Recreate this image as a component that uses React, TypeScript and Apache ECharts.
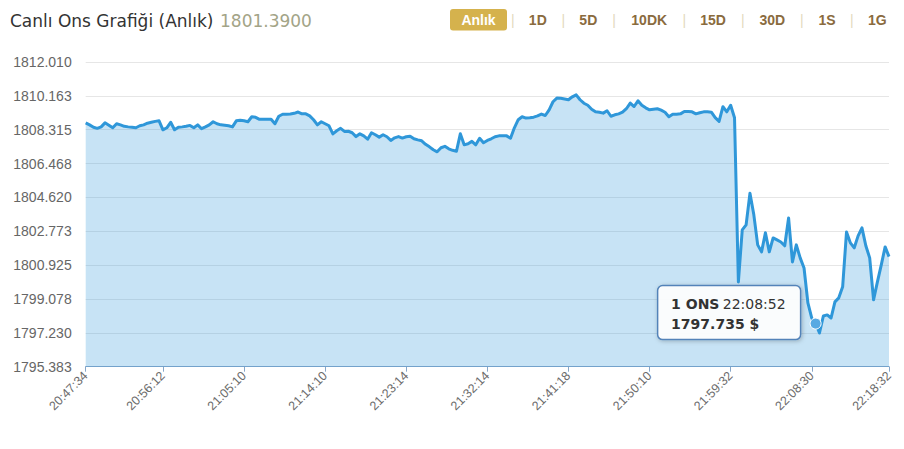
import React, { useEffect, useRef } from "react";
import * as echarts from "echarts";

// ---- data ----
const heading = "Canlı Ons Grafiği (Anlık)";
const currentPrice = "1801.3900";
const periods = ["Anlık", "1D", "5D", "10DK", "15D", "30D", "1S", "1G"];

const tickLabels = [
  "20:47:34", "20:56:12", "21:05:10", "21:14:10", "21:23:14", "21:32:14",
  "21:41:18", "21:50:10", "21:59:32", "22:08:30", "22:18:32",
];
// number of data points between consecutive labelled ticks
const tickSteps = [20, 21, 21, 21, 21, 21, 21, 21, 21, 20];

const prices = [
  1808.69, 1808.58, 1808.45, 1808.39, 1808.47, 1808.69, 1808.56, 1808.42, 1808.64, 1808.58,
  1808.50, 1808.47, 1808.45, 1808.42, 1808.53, 1808.58, 1808.67, 1808.72, 1808.77, 1808.80,
  1808.31, 1808.42, 1808.72, 1808.31, 1808.45, 1808.47, 1808.50, 1808.55, 1808.42, 1808.58,
  1808.37, 1808.47, 1808.58, 1808.75, 1808.64, 1808.58, 1808.56, 1808.53, 1808.47, 1808.80,
  1808.83, 1808.80, 1808.75, 1809.02, 1808.99, 1808.88, 1808.88, 1808.88, 1808.88, 1808.64,
  1809.05, 1809.16, 1809.16, 1809.17, 1809.21, 1809.28, 1809.18, 1809.18, 1809.07, 1808.86,
  1808.58, 1808.75, 1808.64, 1808.53, 1808.09, 1808.26, 1808.39, 1808.22, 1808.23, 1808.15,
  1807.94, 1808.09, 1807.98, 1807.80, 1808.15, 1808.04, 1807.91, 1808.04, 1807.93, 1807.73,
  1807.87, 1807.94, 1807.86, 1807.93, 1807.96, 1807.82, 1807.76, 1807.71, 1807.52, 1807.38,
  1807.22, 1807.11, 1807.33, 1807.41, 1807.27, 1807.19, 1807.14, 1808.09, 1807.49, 1807.55,
  1807.68, 1807.49, 1807.85, 1807.60, 1807.73, 1807.82, 1807.93, 1807.98, 1807.98, 1807.98,
  1807.85, 1808.42, 1808.86, 1809.02, 1808.95, 1808.97, 1809.00, 1809.07, 1809.17, 1809.09,
  1809.40, 1809.84, 1810.04, 1810.03, 1809.99, 1809.95, 1810.11, 1810.22, 1809.95, 1809.76,
  1809.65, 1809.43, 1809.29, 1809.27, 1809.22, 1809.35, 1809.05, 1809.13, 1809.18, 1809.27,
  1809.46, 1809.77, 1809.58, 1809.89, 1809.65, 1809.51, 1809.40, 1809.43, 1809.46, 1809.38,
  1809.27, 1809.02, 1809.16, 1809.16, 1809.18, 1809.31, 1809.31, 1809.29, 1809.18, 1809.24,
  1809.29, 1809.29, 1809.27, 1808.97, 1808.77, 1809.57, 1809.29, 1809.65, 1808.97, 1800.01,
  1802.85, 1803.12, 1804.85, 1803.67, 1802.03, 1801.65, 1802.69, 1801.65, 1802.41, 1802.30,
  1802.19, 1801.98, 1803.50, 1801.10, 1802.03, 1801.32, 1800.77, 1798.86, 1798.04, 1797.735,
  1797.22, 1798.15, 1798.21, 1798.04, 1798.92, 1799.14, 1799.74, 1802.74, 1802.14, 1801.87,
  1802.52, 1802.96, 1801.98, 1801.32, 1799.03, 1800.01, 1800.94, 1801.92, 1801.39,
];

const yMin = 1795.383;
const yMax = 1812.01;
const yStep = 1.847445;

const tipIndex = 189;
const tipTime = "22:08:52";
const tipUnit = "1 ONS";

export default function App() {
  const ref = useRef<HTMLDivElement>(null);

  useEffect(() => {
    const el = ref.current;
    if (!el) return;
    const chart = echarts.init(el, undefined, { renderer: "svg" });

    const tickIdx: number[] = [0];
    tickSteps.forEach((s) => tickIdx.push(tickIdx[tickIdx.length - 1] + s));
    const labelAt: Record<number, string> = {};
    tickIdx.forEach((k, i) => (labelAt[k] = tickLabels[i]));
    const categories = prices.map((_, i) => labelAt[i] ?? "");
    const isTick = (i: number) => labelAt[i] !== undefined;

    const btnCenters = [478.5, 537.8, 588.3, 649.2, 713, 772.3, 827, 877.3];
    const sepX = [512.7, 563.3, 614, 684.3, 742.7, 801.7, 851.7];

    const headerGraphics: any[] = [
      {
        type: "text",
        x: 10,
        y: 21,
        style: {
          text: heading,
          fill: "#333",
          font: "17px 'DejaVu Sans'",
          textVerticalAlign: "middle",
        },
      },
      {
        type: "text",
        x: 220,
        y: 21,
        style: {
          text: currentPrice,
          fill: "#a3a487",
          font: "17px 'DejaVu Sans'",
          textVerticalAlign: "middle",
        },
      },
      {
        type: "rect",
        shape: { x: 450, y: 9, width: 57, height: 21.5, r: 3 },
        style: { fill: "#d5b24d" },
      },
    ];
    periods.forEach((p, i) => {
      headerGraphics.push({
        type: "text",
        x: btnCenters[i],
        y: 20,
        style: {
          text: p,
          fill: i === 0 ? "#ffffff" : "#8a6b3e",
          font: "bold 14px 'Liberation Sans', Arial",
          textAlign: "center",
          textVerticalAlign: "middle",
        },
      });
    });
    sepX.forEach((x) => {
      headerGraphics.push({
        type: "text",
        x,
        y: 20,
        style: {
          text: "|",
          fill: "#e3d9bd",
          font: "14px 'Liberation Sans', Arial",
          textAlign: "center",
          textVerticalAlign: "middle",
        },
      });
    });

    chart.setOption({
      animation: false,
      backgroundColor: "#ffffff",
      grid: { left: 85.7, right: 15, top: 62, bottom: 82.3, containLabel: false, outerBoundsMode: "none" },
      xAxis: {
        type: "category",
        boundaryGap: false,
        data: categories,
        axisLine: { lineStyle: { color: "#86a6c8", width: 1 } },
        axisTick: { show: true, interval: (i: number) => isTick(i), length: 5, lineStyle: { color: "#86a6c8" } },
        axisLabel: {
          interval: (i: number) => isTick(i),
          rotate: 45,
          margin: 7,
          color: "#6b6b6b",
          fontSize: 12.5,
          fontFamily: "'Liberation Sans', Arial",
        },
        splitLine: { show: false },
      },
      yAxis: {
        type: "value",
        min: yMin,
        max: yMax,
        interval: yStep,
        axisLine: { show: false },
        axisTick: { show: false },
        axisLabel: {
          margin: 14,
          color: "#666",
          fontSize: 14,
          fontFamily: "'Liberation Sans', Arial",
          formatter: (v: number) => v.toFixed(3),
        },
        splitLine: { lineStyle: { color: "#e6e6e6", width: 1 } },
      },
      series: [
        {
          type: "line",
          data: prices,
          showSymbol: false,
          symbol: "none",
          smooth: false,
          lineStyle: { color: "#2f97d9", width: 3, join: "round" },
          areaStyle: { color: "#2f97d9", opacity: 0.27 },
          markPoint: {
            symbol: "circle",
            symbolSize: 11,
            label: { show: false },
            itemStyle: { color: "#58a9e2", borderColor: "#ffffff", borderWidth: 1 },
            data: [{ coord: [tipIndex, prices[tipIndex]] }],
          },
          z: 2,
        },
      ],
      graphic: { elements: headerGraphics },
    });

    const pt = chart.convertToPixel({ gridIndex: 0 }, [tipIndex, prices[tipIndex]]) as number[];
    if (pt && isFinite(pt[0])) {
      const px = pt[0];
      const py = pt[1];
      const tipGraphics = [
        ...headerGraphics,
        {
          type: "rect",
          z: 100,
          shape: { x: px - 158, y: py - 38, width: 143, height: 54, r: 5 },
          style: {
            fill: "rgba(255,255,255,0.93)",
            stroke: "#5383b9",
            lineWidth: 1.5,
            shadowBlur: 4,
            shadowOffsetX: 1,
            shadowOffsetY: 1,
            shadowColor: "rgba(0,0,0,0.25)",
          },
        },
        {
          type: "text",
          z: 101,
          x: px - 144.5,
          y: py - 20,
          style: {
            text: `{b|${tipUnit}} {n|${tipTime}}`,
            textVerticalAlign: "middle",
            rich: {
              b: { fontFamily: "'DejaVu Sans'", fontSize: 14, fontWeight: "bold", fill: "#333", color: "#333" },
              n: { fontFamily: "'DejaVu Sans'", fontSize: 14, fill: "#333", color: "#333" },
            },
          },
        },
        {
          type: "text",
          z: 101,
          x: px - 144.5,
          y: py,
          style: {
            text: `${prices[tipIndex].toFixed(3)} $`,
            fill: "#333",
            font: "bold 14px 'DejaVu Sans'",
            textVerticalAlign: "middle",
          },
        },
      ];
      chart.setOption({ graphic: { elements: tipGraphics } });
    }

    return () => chart.dispose();
  }, []);

  return (
    <div
      ref={ref}
      style={{ position: "fixed", left: 0, top: 0, width: 904, height: 449, background: "#fff" }}
    />
  );
}
